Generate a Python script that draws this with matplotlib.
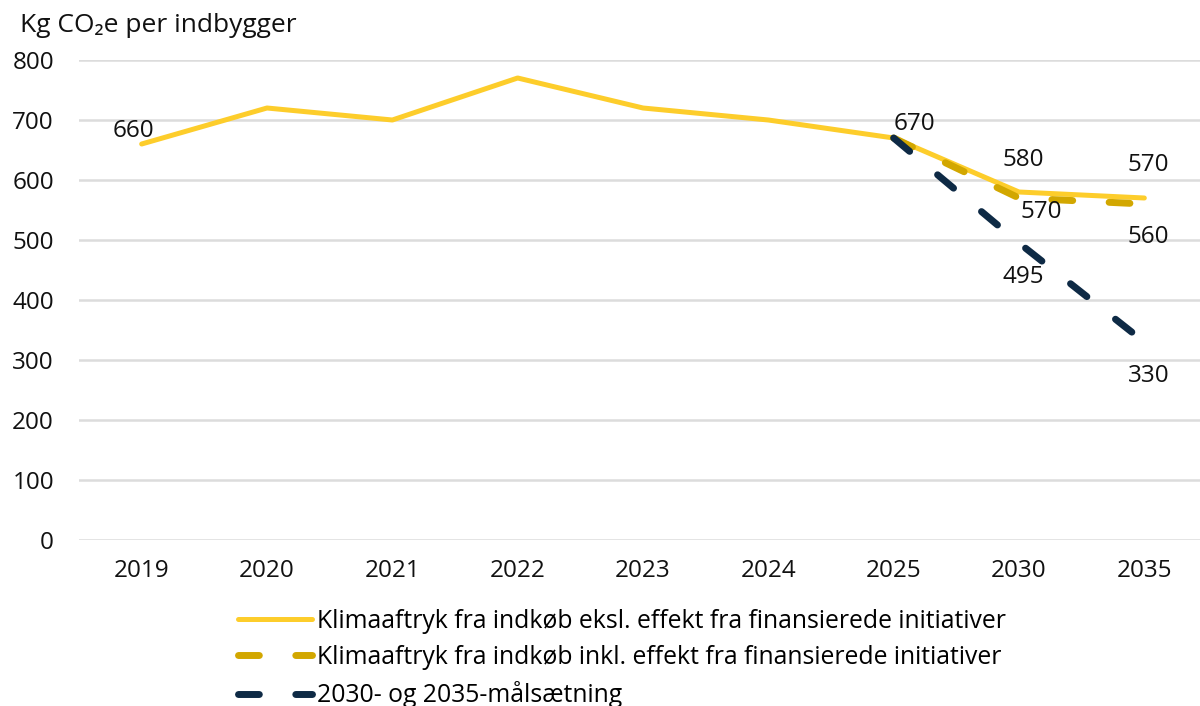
import matplotlib
matplotlib.use('Agg')
import matplotlib.pyplot as plt
import numpy as np

plt.rcParams['font.family'] = ['Open Sans', 'DejaVu Sans']

# data
years = ['2019', '2020', '2021', '2022', '2023', '2024', '2025', '2030', '2035']
ekskl = [660, 720, 700, 770, 720, 700, 670, 580, 570]
inkl = [670, 570, 560]
maal = [670, 495, 330]
tail_idx = [6, 7, 8]

lbl_ekskl = 'Klimaaftryk fra indkøb eksl. effekt fra finansierede initiativer'
lbl_inkl = 'Klimaaftryk fra indkøb inkl. effekt fra finansierede initiativer'
lbl_maal = '2030- og 2035-målsætning'

yellow = '#FDCD2B'
gold = '#D2A700'
navy = '#0E2A45'
fs = 17.5

fig = plt.figure(figsize=(12, 7.06), dpi=100)
ax = fig.add_axes([79/1200, 1-540/706, 1128/1200, 480/706])

x = np.arange(len(years))
ax.plot(x, ekskl, color=yellow, lw=3.6, solid_capstyle='round', label=lbl_ekskl, zorder=3)
ax.plot(x[tail_idx], inkl, color=gold, lw=5, linestyle=(0, (3.0, 5.25)),
        dash_capstyle='round', label=lbl_inkl, zorder=4)
ax.plot(x[tail_idx], maal, color=navy, lw=5, linestyle=(0, (3.0, 5.25)),
        dash_capstyle='round', label=lbl_maal, zorder=5)

ax.set_xlim(-0.5, 8.5)
ax.set_ylim(0, 800)
ax.set_yticks(range(0, 801, 100))
ax.set_xticks(x)
ax.set_xticklabels(years)
ax.tick_params(length=0, labelsize=fs, colors='#111111')
ax.tick_params(axis='x', pad=14)
ax.tick_params(axis='y', pad=18)
ax.grid(axis='y', color='#dcdcdc', lw=1.8)
ax.set_axisbelow(True)
for s in ax.spines.values():
    s.set_visible(False)

def lab(xi, yv, dx, dy):
    ax.annotate(str(yv), (xi, yv), xytext=(dx, dy), textcoords='offset pixels',
                ha='center', va='center', fontsize=fs, color='#111111', zorder=6)

lab(0, ekskl[0], -8, 13)
lab(6, ekskl[6], 21, 14)
lab(7, ekskl[7], 4, 32)
lab(8, ekskl[8], 4, 33)
lab(7, inkl[1], 22, -14)
lab(8, inkl[2], 4, -33)
lab(7, maal[1], 4, -34)
lab(8, maal[2], 4, -34)

fig.text(20/1200, 1-25/706, 'Kg CO₂e per indbygger', fontsize=19, va='center', ha='left', color='#111111')

fig.legend(loc='upper left', bbox_to_anchor=(238/1200, 1-609/706), frameon=False,
           fontsize=17.8, handlelength=3.0, handletextpad=0.2, labelspacing=0.45,
           borderaxespad=0, borderpad=0)

fig.savefig('out.png', dpi=100)
